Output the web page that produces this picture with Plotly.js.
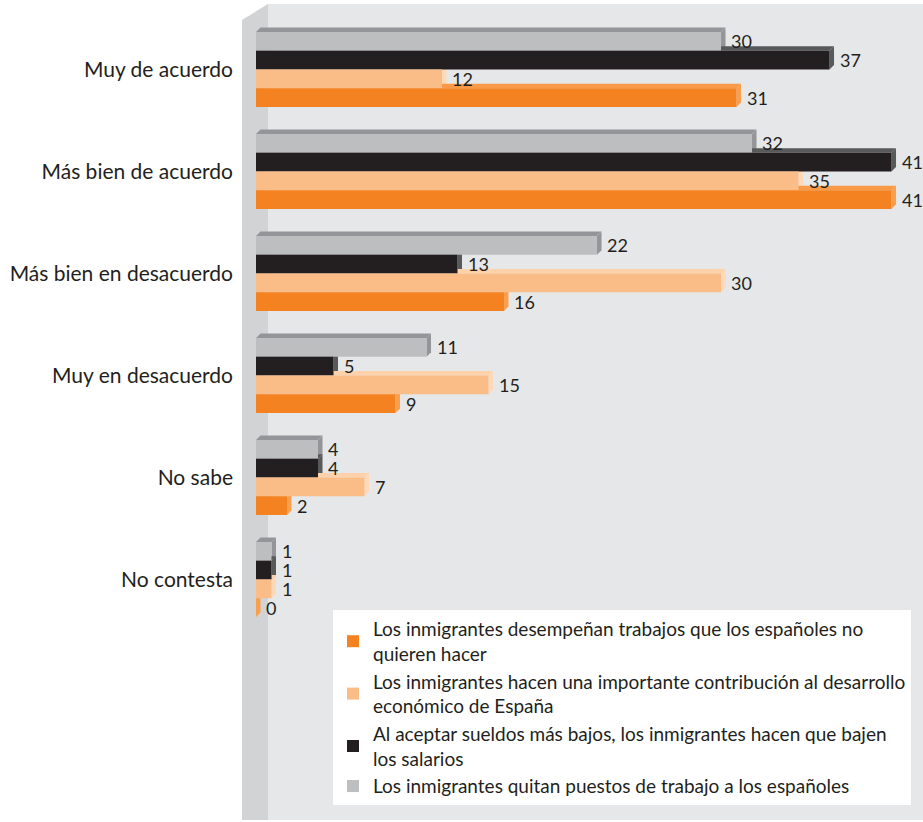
<!DOCTYPE html>
<html>
<head>
<meta charset="utf-8">
<script src="https://cdn.plot.ly/plotly-3.0.1.min.js"></script>
<style>html,body{margin:0;padding:0;background:#fff;}#chart{width:923px;height:822px;}</style>
</head>
<body>
<div id="chart"></div>
<script>
// ---- data ----
const categories = ['Muy de acuerdo', 'Más bien de acuerdo', 'Más bien en desacuerdo', 'Muy en desacuerdo', 'No sabe', 'No contesta'];
const seriesNames = [
  'Los inmigrantes quitan puestos de trabajo a los españoles',
  'Al aceptar sueldos más bajos, los inmigrantes hacen que bajen<br>los salarios',
  'Los inmigrantes hacen una importante contribución al desarrollo<br>económico de España',
  'Los inmigrantes desempeñan trabajos que los españoles no<br>quieren hacer'
];
const quitanPuestos = [30, 32, 22, 11, 4, 1];
const bajanSalarios = [37, 41, 13, 5, 4, 1];
const contribucion = [12, 35, 30, 15, 7, 1];
const desempenan = [31, 41, 16, 9, 2, 0];

// ---- styles ----
const seriesValues = [quitanPuestos, bajanSalarios, contribucion, desempenan];
const frontColors = ['#bcbec0', '#231f20', '#fbbd87', '#f58220'];
const topColors = ['#939598', '#58595b', '#fdd2ab', '#f89a48'];
const sideColors = ['#939598', '#58595b', '#fdd9b9', '#f9a04f'];
const FONT = 'Lato, "Open Sans", sans-serif';
const TXT = '#231f20';

const bargap = 0.265;
const nS = seriesValues.length;
const bw = (1 - bargap) / nS;
const yIdx = categories.map((c, i) => i);

// px -> data conversions for 3D depth
const xRange = [-0.903, 43.03];
const yRange = [7.358, -0.642];
const plotW = 681, plotH = 816;
const pxX = (xRange[1] - xRange[0]) / plotW;
const pxY = (yRange[0] - yRange[1]) / plotH;
const dx = 4.5 * pxX, dy = 4.5 * pxY;

const traces = seriesValues.map((vals, s) => ({
  type: 'bar',
  orientation: 'h',
  name: seriesNames[s],
  x: vals,
  y: yIdx,
  marker: {color: frontColors[s], line: {width: 0}},
  hoverinfo: 'skip'
}));

// wall + back panel (paper coords)
const wallX = 26 / plotW;
const shapes = [
  {type: 'rect', xref: 'paper', yref: 'paper', x0: wallX, x1: 1, y0: 0, y1: 1,
   fillcolor: '#e6e7e8', line: {width: 0}, layer: 'below'},
  {type: 'path', xref: 'paper', yref: 'paper',
   path: `M0,0 L0,${(1 - 16 / plotH).toFixed(4)} L${wallX.toFixed(4)},1 L${wallX.toFixed(4)},0 Z`,
   fillcolor: '#d1d3d4', line: {width: 0}, layer: 'below'}
];

const annotations = [];
seriesValues.forEach((vals, s) => {
  vals.forEach((v, c) => {
    const yc = c - (1 - bargap) / 2 + (s + 0.5) * bw;
    const yT = yc - bw / 2, yB = yc + bw / 2;
    // top face
    shapes.push({type: 'path', xref: 'x', yref: 'y', layer: 'below',
      path: `M0,${yT} L${dx},${yT - dy} L${v + dx},${yT - dy} L${v},${yT} Z`,
      fillcolor: topColors[s], line: {width: 0}});
    // side face
    shapes.push({type: 'path', xref: 'x', yref: 'y', layer: 'below',
      path: `M${v},${yT} L${v + dx},${yT - dy} L${v + dx},${yB - dy} L${v},${yB} Z`,
      fillcolor: sideColors[s], line: {width: 0}});
    annotations.push({x: v, y: yc, xref: 'x', yref: 'y', text: String(v),
      showarrow: false, xanchor: 'left', yanchor: 'middle', xshift: 9, borderpad: 0,
      font: {family: FONT, size: 18, color: TXT}});
  });
});

const layout = {
  width: 923, height: 822,
  margin: {l: 242, r: 0, t: 4, b: 2, pad: 0},
  paper_bgcolor: '#ffffff',
  plot_bgcolor: '#ffffff',
  barmode: 'group',
  bargap: bargap,
  bargroupgap: 0,
  showlegend: true,
  xaxis: {range: xRange, visible: false, showgrid: false, zeroline: false, fixedrange: true},
  yaxis: {range: yRange, tickmode: 'array', tickvals: yIdx, ticktext: categories,
    showgrid: false, zeroline: false, showline: false, ticks: '', ticklabelstandoff: 8,
    tickfont: {family: FONT, size: 21, color: TXT}, fixedrange: true},
  legend: {x: (333 - 242) / plotW, y: (820 - 610) / plotH, xanchor: 'left', yanchor: 'top',
    bgcolor: '#ffffff', borderwidth: 0, traceorder: 'reversed',
    font: {family: FONT, size: 19, color: TXT}, itemwidth: 30},
  shapes: shapes,
  annotations: annotations,
  hovermode: false
};

Plotly.newPlot('chart', traces, layout, {displayModeBar: false, staticPlot: true});
</script>
</body>
</html>
